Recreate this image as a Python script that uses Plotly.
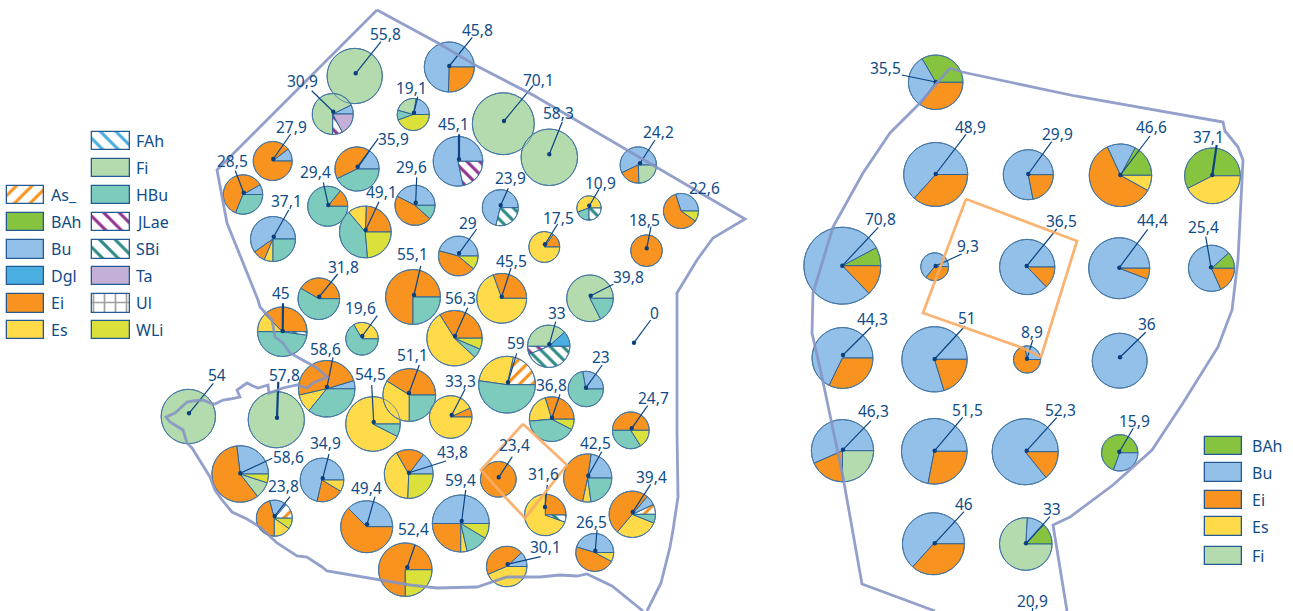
import math
import plotly.graph_objects as go

W, H = 1293, 611

# ---------- categories and legend order ----------
categories = ["As_", "BAh", "Bu", "Dgl", "Ei", "Es", "FAh", "Fi", "HBu", "JLae", "SBi", "Ta", "Ul", "WLi"]
legend_left_a = ["As_", "BAh", "Bu", "Dgl", "Ei", "Es"]
legend_left_b = ["FAh", "Fi", "HBu", "JLae", "SBi", "Ta", "Ul", "WLi"]
legend_right = ["BAh", "Bu", "Ei", "Es", "Fi"]

# ---------- values: totals printed beside each pie ----------
left_totals = [55.8, 30.9, 27.9, 28.5, 37.1, 29.4, 35.9, 49.1, 19.1, 45.8, 70.1, 58.3, 24.2, 22.6,
               45.1, 29.6, 23.9, 10.9, 17.5, 18.5, 29, 55.1, 45.5, 39.8, 31.8, 19.6, 45, 58.6,
               54, 57.8, 54.5, 51.1, 33.3, 56.3, 59, 33, 23, 36.8, 24.7, 42.5, 23.4, 31.6,
               39.4, 26.5, 30.1, 59.4, 49.4, 34.9, 43.8, 58.6, 23.8, 52.4, 0]
right_totals = [35.5, 48.9, 29.9, 46.6, 37.1, 70.8, 9.3, 36.5, 44.4, 25.4, 44.3, 51, 8.9, 36,
                46.3, 51.5, 52.3, 15.9, 46, 33, 20.9]

L01 = {"Fi": 360}
L02 = {"Bu": 26, "Fi": 244, "JLae": 28, "Ta": 62}
L03 = {"Bu": 38, "Ei": 322}
L04 = {"Bu": 30, "Ei": 218, "HBu": 112}
L05 = {"Bu": 215, "Ei": 32, "Es": 23, "HBu": 90}
L06 = {"Ei": 51, "HBu": 309}
L07 = {"Bu": 55, "Ei": 151, "HBu": 154}
L08 = {"Ei": 88, "Es": 42, "HBu": 145, "WLi": 85}
L09 = {"Bu": 80, "Fi": 85, "HBu": 35, "WLi": 160}
L10 = {"Bu": 268, "Ei": 92}
L11 = {"Fi": 360}
L12 = {"Fi": 360}
L13 = {"Bu": 205, "Ei": 67, "Fi": 88}
L14 = {"Bu": 108, "Ei": 217, "WLi": 35}
L15 = {"Bu": 282, "JLae": 78}
L16 = {"Bu": 153, "Ei": 165, "HBu": 42}
L17 = {"Bu": 256, "SBi": 104}
L18 = {"Es": 200, "HBu": 70, "SBi": 90}
L19 = {"Ei": 55, "Es": 305}
L20 = {"Ei": 360}
L21 = {"Bu": 165, "Ei": 155, "WLi": 40}
L22 = {"Ei": 270, "HBu": 90}
L23 = {"Ei": 110, "Es": 250}
L24 = {"Fi": 297, "HBu": 63}
L25 = {"Ei": 150, "HBu": 210}
L26 = {"Es": 120, "HBu": 240}
L27 = {"Ei": 135, "Es": 45, "HBu": 172, "SBi": 8}
L28 = {"Bu": 17, "Ei": 176, "Es": 38, "HBu": 129}
L29 = {"Fi": 360}
L30 = {"Fi": 360}
L31 = {"Es": 333, "HBu": 27}
L32 = {"Ei": 148, "Es": 122, "HBu": 90}
L33 = {"Ei": 25, "Es": 335}
L34 = {"Ei": 122, "Es": 195, "HBu": 20, "WLi": 23}
L35 = {"As_": 77, "Es": 95, "HBu": 188}
L36 = {"Dgl": 42, "Fi": 138, "JLae": 22, "SBi": 158}
L37 = {"Bu": 100, "HBu": 260}
L38 = {"Ei": 107, "Es": 78, "HBu": 148, "WLi": 27}
L39 = {"Ei": 180, "HBu": 122, "WLi": 58}
L40 = {"Bu": 82, "Ei": 176, "Es": 20, "HBu": 82}
L41 = {"Ei": 360}
L42 = {"Ei": 90, "Es": 250, "SBi": 20}
L43 = {"As_": 25, "Bu": 25, "Ei": 180, "Es": 108, "HBu": 22}
L44 = {"Bu": 163, "Ei": 169, "Es": 28}
L45 = {"Bu": 43, "Ei": 160, "Es": 157}
L46 = {"Bu": 180, "Ei": 90, "Es": 13, "HBu": 46, "WLi": 31}
L47 = {"Bu": 135, "Ei": 225}
L48 = {"Bu": 257, "Ei": 72, "Es": 31}
L49 = {"Bu": 53, "Ei": 67, "Es": 148, "WLi": 92}
L50 = {"Bu": 97, "Ei": 211, "Fi": 34, "WLi": 18}
L51 = {"As_": 50, "Bu": 55, "Ei": 165, "Es": 55, "WLi": 35}
L52 = {"Ei": 270, "WLi": 90}
L53 = {}

R01 = {"BAh": 120, "Bu": 115, "Ei": 125}
R02 = {"Bu": 228, "Ei": 132}
R03 = {"Bu": 281, "Ei": 79}
R04 = {"BAh": 62, "Bu": 53, "Ei": 216, "Es": 29}
R05 = {"BAh": 207, "Es": 153}
R06 = {"BAh": 28, "Bu": 286, "Ei": 46}
R07 = {"Bu": 231, "Ei": 129}
R08 = {"Bu": 314, "Ei": 46}
R09 = {"Bu": 339, "Ei": 21}
R10 = {"BAh": 42, "Bu": 252, "Ei": 66}
R11 = {"Bu": 244, "Ei": 116}
R12 = {"Bu": 287, "Ei": 73}
R13 = {"Bu": 100, "Ei": 260}
R14 = {"Bu": 360}
R15 = {"Bu": 204, "Ei": 66, "Fi": 90}
R16 = {"Bu": 259, "Ei": 101}
R17 = {"Bu": 309, "Ei": 51}
R18 = {"BAh": 250, "Bu": 110}
R19 = {"Bu": 228, "Ei": 132}
R20 = {"BAh": 47, "Bu": 40, "Fi": 273}
R21 = {}

left_mix = [L01, L02, L03, L04, L05, L06, L07, L08, L09, L10, L11, L12, L13, L14, L15, L16, L17, L18,
            L19, L20, L21, L22, L23, L24, L25, L26, L27, L28, L29, L30, L31, L32, L33, L34, L35, L36,
            L37, L38, L39, L40, L41, L42, L43, L44, L45, L46, L47, L48, L49, L50, L51, L52, L53]
right_mix = [R01, R02, R03, R04, R05, R06, R07, R08, R09, R10, R11, R12, R13, R14, R15, R16, R17,
             R18, R19, R20, R21]

# ---------- positions (pixels): pie centre, leader dot, label, leader end ----------
left_place = [
    (354.7, 76, 355.7, 73.3, 385, 34, 381, 41.7), (332.7, 114, 333.3, 111.7, 302, 81, 311.7, 90.7),
    (272.7, 161, 273.3, 159, 291, 127, 290.7, 134), (243, 194.5, 243.7, 192.7, 232, 161, 235.3, 170.7),
    (273, 239, 273.7, 236.7, 286, 201, 288.7, 210), (327.7, 206.3, 328.3, 205, 315, 171.7, 323.3, 182.3),
    (357, 169, 357.7, 166.7, 393.7, 139.3, 378.3, 138.3), (365.3, 232, 365.7, 230, 381.7, 192.3, 379, 201.7),
    (413.3, 114.5, 414, 112.7, 411.7, 88.3, 417.7, 96.7), (449.3, 67, 449.3, 66, 477.7, 30, 472.3, 37.3),
    (503.3, 123.7, 504, 121, 538.7, 80, 533.3, 85.3), (549.3, 157.3, 549.3, 154.3, 558.7, 113.3, 562.3, 121.7),
    (638.3, 165, 640, 163.3, 658, 132.3, 655, 140), (681, 211, None, None, 704.3, 187.7, None, None),
    (458, 161.3, 459, 159.3, 453.3, 124, 459, 134.3), (415, 205.3, 415.7, 202.7, 411, 166.7, 416.7, 177.3),
    (500.3, 207.7, 500.7, 205.3, 510, 177.7, 508.3, 188.3), (589, 208, 589.3, 205.7, 600.7, 182.7, 599, 189.3),
    (544.3, 247, 545, 244.3, 558, 218.3, 557.7, 224), (646.5, 250.7, 646.7, 248.3, 644.3, 220, 651, 226.7),
    (458.3, 256, 459, 253.3, 467.7, 223.3, 476.7, 229), (413, 297, 414, 295, 412.7, 254, 420.7, 266),
    (501.7, 298.3, 501.7, 296.7, 511.3, 260.7, 511, 268), (590, 298.3, 590.7, 295.7, 628.3, 276.7, 613.3, 284.3),
    (318.8, 298.7, 319.3, 296.7, 343.3, 267.3, 337.7, 274), (362, 338.8, 362.3, 336, 360, 308.3, 377.3, 315.7),
    (282.3, 331.7, 282.7, 331, 281, 292.7, 283, 303.3), (326.7, 388.8, 327, 387, 325, 349.3, 333, 357.3),
    (188.3, 416.5, 189, 413.3, 216.7, 375, 213.3, 383.3), (276.3, 419.7, 277, 417.7, 284.3, 375, 278.3, 381.7),
    (373, 424, 373.7, 422, 370, 374, 371.7, 385), (409.3, 395, 409, 393, 412, 355, 419.3, 365),
    (450.7, 417, 451.7, 415, 460, 381, 465, 389.3), (454.5, 338.2, 455, 336, 460, 298.3, 467.7, 307.7),
    (507, 384.7, 508, 382.3, 516, 343.3, 516.7, 353.3), (548.7, 346.3, 549.3, 344.3, 556.7, 313.3, 555.7, 321.7),
    (585.8, 389, 586, 387.7, 601, 357.3, 602.3, 365), (551.7, 419.2, 552, 417.7, 551.7, 384.7, 560, 394.3),
    (630.8, 430.3, 631.7, 428.3, 653.3, 398.3, 647.7, 405.7), (587.7, 478, 588.3, 475.7, 595.7, 442.7, 601.7, 451.7),
    (498.3, 479.3, 498.7, 477.3, 514, 445, 512.3, 456.7), (545.3, 515, 545, 507, 543, 474, 547.3, 485),
    (632.3, 514.3, 632.7, 512, 651.7, 477.3, 650.7, 484.3), (594.7, 552.5, 595.3, 550.7, 591.7, 521.7, 597, 530),
    (506.7, 566.5, 507.7, 564.3, 545, 547.3, 540.7, 556.7), (460.8, 523.5, 461.7, 521, 460, 480, 465.7, 490),
    (366.7, 526.7, 367, 524.3, 366, 487.7, 375, 496.7), (322, 480, 322.7, 478.3, 325, 443.3, 329, 454),
    (408.7, 474, 409, 472.7, 452.7, 451.7, 446, 461), (240.2, 474, 240.3, 473.3, 288.7, 456.7, 272.3, 458.3),
    (274.3, 518.2, 274.7, 516, 283.3, 485.7, 290, 496.7), (405.3, 569.7, 407.3, 567.3, 413.3, 529, 415, 545),
    (634, 342.7, 634, 342.7, 654.3, 313.3, 650.7, 320),
]
right_place = [
    (935.7, 82.3, 935.7, 82, 885, 67.7, 901.7, 75), (935.7, 174.5, 935.7, 174, 970, 126.7, 966, 134.3),
    (1028.3, 174.7, 1028.3, 174, 1057.3, 134, 1051.7, 141.7), (1120.5, 175.3, 1120.3, 175, 1151, 126.7, 1150, 136),
    (1212.5, 175.8, 1212.3, 175, 1208.7, 136.7, 1216.7, 145), (842.3, 265.7, 842.3, 265.7, 880.7, 219, 878.3, 227.3),
    (934.7, 266.7, 935.7, 266, 968.3, 246, 961.7, 254), (1027.2, 267, 1026.7, 266, 1061, 220.7, 1056.7, 229),
    (1119.2, 268.2, 1119.3, 267.7, 1152.3, 220, 1147.7, 229.3), (1211.5, 268.3, 1211, 267.3, 1203.7, 226.7, 1205.7, 236.7),
    (842.5, 358, 843, 355, 872.7, 319.3, 871, 327.3), (934.5, 359.3, 934.7, 359, 966.7, 318.3, 965, 326),
    (1027, 359.5, 1027, 358.7, 1031.7, 331.7, 1032.7, 340), (1119.7, 360.7, 1120, 357.3, 1146.7, 324.3, 1145.7, 332.3),
    (842.5, 450.7, 843, 449.7, 873.3, 410.7, 871, 420.7), (934.3, 451.3, 934.7, 450.7, 967.7, 410, 962.7, 417.3),
    (1025.2, 451.7, 1026.7, 450.7, 1060, 410, 1056.7, 417.7), (1119.7, 452.8, 1119.3, 451.7, 1134, 420.7, 1133.3, 428.3),
    (933.5, 543.8, 934.7, 543.3, 964.3, 504, 964, 511.7), (1025.8, 544, 1026, 543.3, 1051.7, 509.3, 1050, 516.7),
    (1032.5, 640, 1032.3, 611, 1032.7, 601, 1032.7, 608),
]
left_k, right_k = 3.7, 4.58           # radius = k * sqrt(total)
thick_leaders = {("L", 14), ("L", 26), ("L", 29), ("R", 4)}

# ---------- map outlines (pixels) ----------
left_outline = [(377, 10), (438, 43), (475, 65), (533, 95), (627, 150), (745, 219), (713, 238), (697, 260),
    (677, 293), (677, 357), (677, 433), (678, 497), (673, 530), (670, 547), (661, 583), (647, 611)]
left_outline_b = [(643, 611), (612, 586), (587, 574), (577, 576), (560, 575), (540, 577), (507, 577), (477, 587),
    (437, 588), (410, 585), (327, 571), (322, 567), (307, 557), (297, 556), (277, 543), (260, 527), (247, 519),
    (232, 512), (222, 500), (215, 490), (210, 477), (192, 448), (187, 443), (183, 430), (170, 422), (166, 417),
    (175, 413), (187, 402), (193, 401), (203, 400), (210, 403), (215, 404), (223, 400), (230, 399), (240, 397),
    (237, 390), (247, 383), (253, 386), (258, 388), (268, 385), (269, 393), (283, 388), (297, 385), (307, 388),
    (313, 383), (327, 377), (317, 368), (290, 353), (283, 343), (275, 337), (272, 320), (260, 307), (258, 300),
    (227, 223), (217, 170), (377, 10)]
right_outline = [(1067, 611), (1053, 525), (1070, 517), (1113, 485), (1152, 450), (1183, 403), (1218, 347),
    (1232, 310), (1238, 260), (1243, 160), (1238, 147), (1225, 131), (1223, 122), (1075, 96), (962, 72),
    (950, 68), (937, 83), (920, 103), (890, 133), (863, 173), (833, 227), (813, 293), (812, 333), (822, 377),
    (843, 477), (862, 584), (935, 611)]
left_box = [(523, 424), (567, 465), (525, 518), (505, 497), (481, 470), (523, 424)]
right_box = [(966, 199), (1077, 241), (1041, 357), (1023, 348), (923, 313), (966, 199)]

# ---------- styles ----------
INK = "#0f4c88"
EDGE = "#2f6496"
solid = {"BAh": "#86c440", "Bu": "#93c0e8", "Dgl": "#4baee0", "Ei": "#f7931e", "Es": "#ffdb4a",
         "Fi": "#b3dbae", "HBu": "#7ccbbd", "Ta": "#c4b0d6", "WLi": "#dbe03a"}
hatch = {"As_": ("/", "#f7931e"), "FAh": ("\\", "#4baee0"), "JLae": ("\\", "#92358f"),
         "SBi": ("\\", "#2e8b85"), "Ul": ("+", "#a0a0a0")}

fig = go.Figure()
shapes, notes = [], []


def add_pie(total, mix, place, k, thick):
    cx, cy, dx, dy, tx, ty, lx, ly = place
    r = k * math.sqrt(total)
    if mix:
        names = [c for c in categories if c in mix]
        vals = [mix[n] for n in names]
        # plotly's counterclockwise pies end their first slice at "rotation", so shift it to start at 3 o'clock
        start = 90 - vals[0] * 360 / sum(vals)
        fig.add_trace(go.Pie(
            labels=names, values=vals, sort=False, direction="counterclockwise",
            rotation=start % 360, textinfo="none", hoverinfo="label+percent", showlegend=False,
            domain=dict(x=[(cx - r) / W, (cx + r) / W], y=[1 - (cy + r) / H, 1 - (cy - r) / H]),
            marker=dict(
                colors=[solid.get(n, "#ffffff") for n in names],
                line=dict(color=EDGE, width=1),
                pattern=dict(shape=[hatch[n][0] if n in hatch else "" for n in names],
                             fgcolor=[hatch[n][1] if n in hatch else "#ffffff" for n in names],
                             fgopacity=1, size=9, solidity=0.35),
            )))
        shapes.append(dict(type="circle", xref="x", yref="y", x0=cx - r, x1=cx + r, y0=cy - r, y1=cy + r,
                           line=dict(color="#4d7ea8", width=0.8), layer="above"))
    if dx is not None:
        shapes.append(dict(type="line", xref="x", yref="y", x0=dx, y0=dy, x1=lx, y1=ly,
                           line=dict(color="#0b4483", width=2.2 if thick else 1.2), layer="above"))
        if cy < H:
            shapes.append(dict(type="circle", xref="x", yref="y", x0=dx - 2.2, x1=dx + 2.2, y0=dy - 2.2,
                               y1=dy + 2.2, fillcolor="#0b3f7d", line=dict(width=0), layer="above"))
    notes.append(dict(x=tx, y=ty, xref="x", yref="y", text=f"{total:g}".replace(".", ","), showarrow=False,
                      xanchor="center", yanchor="middle", font=dict(family="Noto Sans", size=15.5, color=INK)))


for i, (t, m, p) in enumerate(zip(left_totals, left_mix, left_place)):
    add_pie(t, m, p, left_k, ("L", i) in thick_leaders)
for i, (t, m, p) in enumerate(zip(right_totals, right_mix, right_place)):
    add_pie(t, m, p, right_k, ("R", i) in thick_leaders)


def path(points):
    return "M " + " L ".join(f"{x},{y}" for x, y in points)


for pts in (left_outline, left_outline_b, right_outline):
    shapes.append(dict(type="path", xref="x", yref="y", path=path(pts), layer="above",
                       line=dict(color="#8594c4", width=2.8), opacity=0.88))
for pts in (left_box, right_box):
    shapes.append(dict(type="path", xref="x", yref="y", path=path(pts), layer="above",
                       line=dict(color="#f9ac66", width=2.8), opacity=0.9))


def add_legend(names, x0, x1, tops, text_x):
    for name, top in zip(names, tops):
        shape, fg = hatch.get(name, ("", "#ffffff"))
        fig.add_trace(go.Bar(
            orientation="h", base=[x0], x=[x1 - x0], y=[top + 9.3], width=[18.6], showlegend=False,
            hoverinfo="skip",
            marker=dict(color=solid.get(name, "#ffffff"), line=dict(color="#235a92", width=1.3),
                        pattern=dict(shape=shape, fgcolor=fg, fgopacity=1, size=11, solidity=0.28))))
        notes.append(dict(x=text_x - 2, y=top + 9.3, xref="x", yref="y", text=name, showarrow=False,
                          xanchor="left", yanchor="middle", font=dict(family="Noto Sans", size=16, color=INK)))


add_legend(legend_left_a, 7.3, 44.3, [185.7, 212.7, 240, 266.7, 294, 320.7], 51)
add_legend(legend_left_b, 92, 129.7, [131.7, 158.7, 185.7, 212.7, 240, 266.7, 294, 320.7], 136)
add_legend(legend_right, 1205, 1242.3, [436.7, 463.3, 490.7, 517.3, 546.7], 1252.3)

fig.update_layout(
    width=W, height=H, margin=dict(l=0, r=0, t=0, b=0), paper_bgcolor="white", plot_bgcolor="white",
    showlegend=False, barmode="overlay", bargap=0, shapes=shapes, annotations=notes,
    xaxis=dict(range=[0, W], visible=False, fixedrange=True),
    yaxis=dict(range=[H, 0], visible=False, fixedrange=True),
)
fig.write_html("out.html", config=dict(displayModeBar=False),
               post_script="document.body.style.margin='0';document.documentElement.style.overflow='hidden';")
